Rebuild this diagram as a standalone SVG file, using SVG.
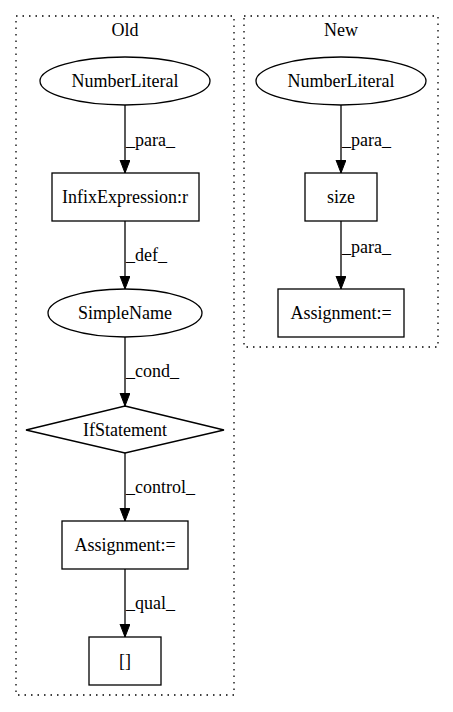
<svg xmlns="http://www.w3.org/2000/svg" width="453" height="712" viewBox="0 0 453 712">
<style>
text{font-family:"Liberation Serif","Times New Roman",serif;font-size:18px;fill:#000}
.c{text-anchor:middle}
.shape{fill:#fff;stroke:#000;stroke-width:1.3}
.cluster{fill:none;stroke:#000;stroke-width:1.3;stroke-dasharray:1.5,5}
.edge{stroke:#000;stroke-width:1.3;fill:none}
</style>
<defs>
<marker id="ah" markerUnits="userSpaceOnUse" markerWidth="14" markerHeight="11" refX="13" refY="5" orient="auto">
<path d="M0,0 L13,5 L0,10 z" fill="#000" stroke="#000" stroke-width="1"/>
</marker>
</defs>
<rect width="453" height="712" fill="#fff"/>
<g id="cluster_old">
<rect class="cluster" x="16" y="16" width="218" height="679"/>
<text class="c" x="125" y="36">Old</text>
</g>
<g id="cluster_new">
<rect class="cluster" x="244" y="16" width="194" height="331"/>
<text class="c" x="341" y="36">New</text>
</g>
<g id="connectors">
<line class="edge" x1="125" y1="105" x2="125" y2="173" marker-end="url(#ah)"/>
<text x="126" y="146">_para_</text>
<line class="edge" x1="125" y1="221" x2="125" y2="289" marker-end="url(#ah)"/>
<text x="126" y="261">_def_</text>
<line class="edge" x1="125" y1="337" x2="125" y2="406" marker-end="url(#ah)"/>
<text x="126" y="377">_cond_</text>
<line class="edge" x1="125" y1="453" x2="125" y2="521" marker-end="url(#ah)"/>
<text x="126" y="493">_control_</text>
<line class="edge" x1="125" y1="569" x2="125" y2="637" marker-end="url(#ah)"/>
<text x="126" y="609">_qual_</text>
<line class="edge" x1="341" y1="105" x2="341" y2="173" marker-end="url(#ah)"/>
<text x="342" y="146">_para_</text>
<line class="edge" x1="341" y1="221" x2="341" y2="289" marker-end="url(#ah)"/>
<text x="342" y="253">_para_</text>
</g>
<g id="old_numberliteral">
<ellipse class="shape" cx="125" cy="81" rx="85" ry="24"/>
<text class="c" x="125" y="87">NumberLiteral</text>
</g>
<g id="old_infix">
<rect class="shape" x="52" y="173" width="147" height="48"/>
<text class="c" x="125" y="203">InfixExpression:r</text>
</g>
<g id="old_simplename">
<ellipse class="shape" cx="125" cy="313" rx="77" ry="24"/>
<text class="c" x="125" y="319">SimpleName</text>
</g>
<g id="old_if">
<polygon class="shape" points="125,406 224,430 125,453 26,430"/>
<text class="c" x="125" y="436">IfStatement</text>
</g>
<g id="old_assignment">
<rect class="shape" x="62" y="521" width="126" height="48"/>
<text class="c" x="125" y="551">Assignment:=</text>
</g>
<g id="old_brackets">
<rect class="shape" x="89" y="637" width="72" height="48"/>
<text class="c" x="125" y="667">[]</text>
</g>
<g id="new_numberliteral">
<ellipse class="shape" cx="341" cy="81" rx="85" ry="24"/>
<text class="c" x="341" y="87">NumberLiteral</text>
</g>
<g id="new_size">
<rect class="shape" x="305" y="173" width="72" height="48"/>
<text class="c" x="341" y="203">size</text>
</g>
<g id="new_assignment">
<rect class="shape" x="278" y="289" width="126" height="48"/>
<text class="c" x="341" y="319">Assignment:=</text>
</g>
</svg>
